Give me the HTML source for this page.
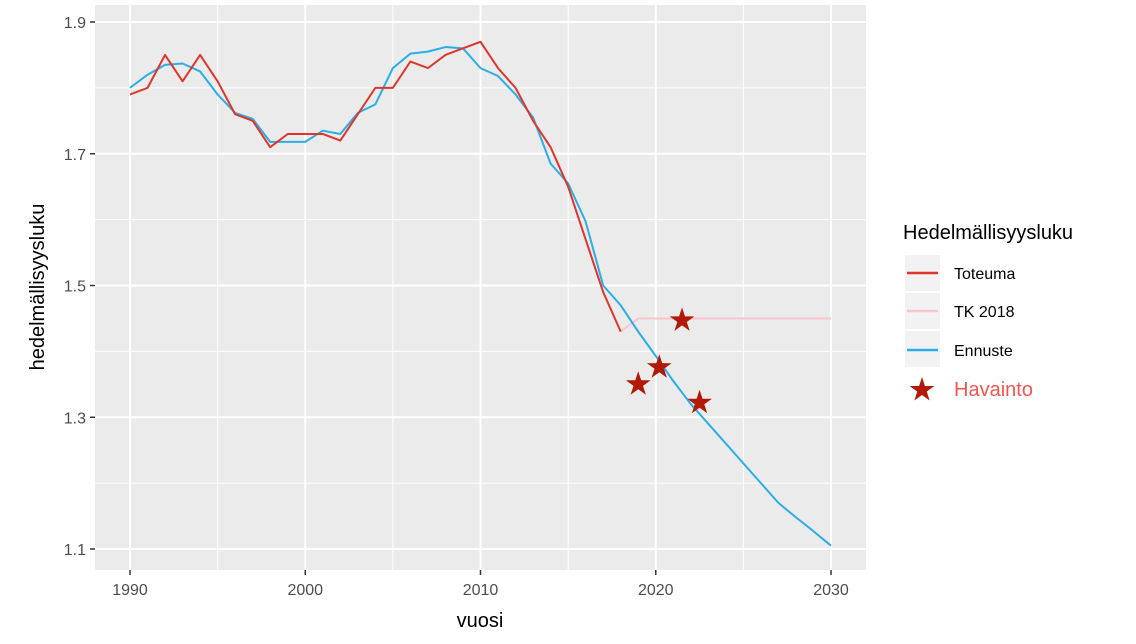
<!DOCTYPE html>
<html><head><meta charset="utf-8"><style>
body{margin:0;background:#fff;}
svg{display:block;font-family:"Liberation Sans",sans-serif;}
</style></head><body>
<svg id="chart" width="1136" height="644">
<rect x="95" y="5" width="771" height="565" fill="#ebebeb"/>
<g id="grid"></g><g id="series"></g><g id="axes"></g>
<text x="480" y="627" font-size="20" text-anchor="middle" fill="#000">vuosi</text>
<text transform="translate(44,287) rotate(-90)" font-size="20" text-anchor="middle" fill="#000">hedelmällisyysluku</text>
<g id="legend">
<text x="903" y="239" font-size="20" fill="#000">Hedelmällisyysluku</text>
<rect x="905" y="255" width="35" height="36" fill="#f2f2f2"/>
<line x1="907" y1="273" x2="938" y2="273" stroke="#e0352b" stroke-width="2.5"/>
<text x="954" y="279" font-size="16">Toteuma</text>
<rect x="905" y="293" width="35" height="36" fill="#f2f2f2"/>
<line x1="907" y1="311" x2="938" y2="311" stroke="#f8c5c8" stroke-width="2.5"/>
<text x="954" y="317" font-size="16">TK 2018</text>
<rect x="905" y="331" width="35" height="36" fill="#f2f2f2"/>
<line x1="907" y1="350" x2="938" y2="350" stroke="#2aaee6" stroke-width="2.5"/>
<text x="954" y="356" font-size="16">Ennuste</text>
<text x="954" y="396" font-size="20" fill="#f25550">Havainto</text>
</g>
</svg>
<script>
const toteumaYears=[1990,1991,1992,1993,1994,1995,1996,1997,1998,1999,2000,2001,2002,2003,2004,2005,2006,2007,2008,2009,2010,2011,2012,2013,2014,2015,2016,2017,2018];
const toteuma=[1.79,1.80,1.85,1.81,1.85,1.81,1.76,1.75,1.71,1.73,1.73,1.73,1.72,1.76,1.80,1.80,1.84,1.83,1.85,1.86,1.87,1.83,1.80,1.75,1.71,1.65,1.57,1.49,1.43];
const ennusteYears=[1990,1991,1992,1993,1994,1995,1996,1997,1998,1999,2000,2001,2002,2003,2004,2005,2006,2007,2008,2009,2010,2011,2012,2013,2014,2015,2016,2017,2018,2019,2020,2021,2022,2023,2024,2025,2026,2027,2028,2029,2030];
const ennuste=[1.80,1.82,1.835,1.837,1.825,1.79,1.762,1.753,1.718,1.718,1.718,1.735,1.73,1.762,1.775,1.83,1.852,1.855,1.862,1.86,1.83,1.818,1.79,1.755,1.685,1.655,1.597,1.50,1.47,1.43,1.393,1.355,1.32,1.29,1.26,1.23,1.20,1.17,1.148,1.127,1.105];
const tkYears=[2018,2019,2020,2021,2022,2023,2024,2025,2026,2027,2028,2029,2030];
const tk=[1.43,1.45,1.45,1.45,1.45,1.45,1.45,1.45,1.45,1.45,1.45,1.45,1.45];
const starYears=[2019.0,2020.2,2021.5,2022.5];
const starValues=[1.35,1.376,1.447,1.322];
const xTicks=[1990,2000,2010,2020,2030];
const yTicks=[1.1,1.3,1.5,1.7,1.9];
const xMinor=[1995,2005,2015,2025];
const yMinor=[1.2,1.4,1.6,1.8];

const NS="http://www.w3.org/2000/svg";
const X=v=>130+(v-1990)*(831-130)/40;
const Y=v=>549-(v-1.1)*(549-22)/0.8;
function mk(tag,attrs,parent){const e=document.createElementNS(NS,tag);for(const k in attrs)e.setAttribute(k,attrs[k]);parent.appendChild(e);return e;}
function starPts(cx,cy){let pts=[];for(let k=0;k<10;k++){const r=k%2?5:13,a=-Math.PI/2+k*Math.PI/5;pts.push((cx+r*Math.cos(a)).toFixed(1)+','+(cy+r*Math.sin(a)).toFixed(1));}return pts.join(' ');}
const grid=document.getElementById('grid'),ser=document.getElementById('series'),ax=document.getElementById('axes');
xMinor.forEach(v=>{const l=mk('line',{x1:X(v),x2:X(v),y1:5,y2:570,stroke:'#fff','stroke-width':1},grid);

});
yMinor.forEach(v=>{const l=mk('line',{x1:95,x2:866,y1:Y(v),y2:Y(v),stroke:'#fff','stroke-width':1},grid);

});
xTicks.forEach(v=>{const l=mk('line',{x1:X(v),x2:X(v),y1:5,y2:570,stroke:'#fff','stroke-width':2},grid);


mk('line',{x1:X(v),x2:X(v),y1:570,y2:575,stroke:'#333','stroke-width':1.5},ax);
const t=mk('text',{x:X(v),y:595,'font-size':16,'text-anchor':'middle',fill:'#4d4d4d'},ax);t.textContent=v;

});
yTicks.forEach(v=>{const l=mk('line',{x1:95,x2:866,y1:Y(v),y2:Y(v),stroke:'#fff','stroke-width':2},grid);


mk('line',{x1:90,x2:95,y1:Y(v),y2:Y(v),stroke:'#333','stroke-width':1.5},ax);
const t=mk('text',{x:86,y:Y(v)+6,'font-size':16,'text-anchor':'end',fill:'#4d4d4d'},ax);t.textContent=v.toFixed(1);

});
function line(xs,ys,color,name){const p=mk('polyline',{points:xs.map((x,i)=>X(x)+','+Y(ys[i])).join(' '),fill:'none',stroke:color,'stroke-width':2,'stroke-linejoin':'round'},ser);

}
line(tkYears,tk,'#f8c5c8','tk2018-line');
line(ennusteYears,ennuste,'#2aaee6','ennuste-line');
line(toteumaYears,toteuma,'#e0352b','toteuma-line');
starYears.forEach((yr,i)=>{const s=mk('polygon',{points:starPts(X(yr),Y(starValues[i])),fill:'#b01a06'},ser);

});
const ls=mk('polygon',{points:starPts(922,390),fill:'#b01a06'},document.getElementById('legend'));


</script>
</body></html>
